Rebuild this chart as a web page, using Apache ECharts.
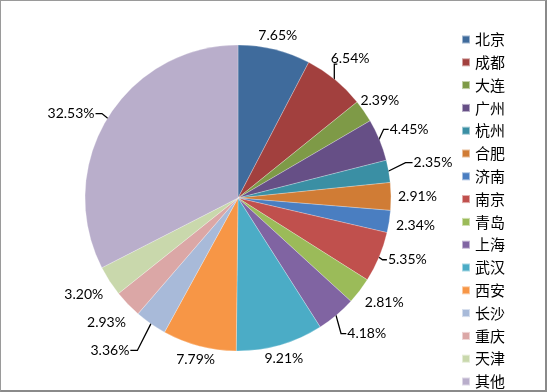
<!DOCTYPE html>
<html><head><meta charset="utf-8">
<script src="https://cdn.jsdelivr.net/npm/echarts@6/dist/echarts.min.js"></script>
<style>
html,body{margin:0;padding:0;background:#fff;}
#c{width:547px;height:392px;box-sizing:border-box;border:1px solid #9a9a9a;border-right:2px solid #8a8a8a;border-bottom:2px solid #8a8a8a;}
</style></head>
<body><div id="c"></div>
<script>
const categories = ['北京','成都','大连','广州','杭州','合肥','济南','南京','青岛','上海','武汉','西安','长沙','重庆','天津','其他'];
const values = [7.65, 6.54, 2.39, 4.45, 2.35, 2.91, 2.34, 5.35, 2.81, 4.18, 9.21, 7.79, 3.36, 2.93, 3.20, 32.53];
const colors = ['#3F6B9C','#A2403E','#7E9A47','#664F86','#3A8FA4','#D07C35','#4A7EC1','#C0504D','#9BBB59','#8064A2','#4BACC6','#F79646','#A8BAD9','#DBA7A6','#C9D8AC','#B9AECB'];

// label layout config: labels dragged away from the pie (offset from default spot) get a leader line
const labelDrag = {'成都':[5,-9],'广州':[6,-1],'杭州':[18,-4],'南京':[5,-7],'上海':[20,6],'长沙':[-32,14],'其他':[-19,6]};
const labelNudge = {'青岛':[10,0],'重庆':[-9,7],'天津':[-9,3]};

const CX = 237, CY = 197, R = 153, GAP = 7;
const chart = echarts.init(document.getElementById('c'), null, {renderer:'canvas'});
chart.setOption({
  animation:false,
  color: colors,
  legend:{
    orient:'vertical', left:455, top:26, height:370,
    itemWidth:8, itemHeight:8, itemGap:7.8,
    icon:'rect',
    textStyle:{fontFamily:'Noto Sans CJK SC', fontSize:15, color:'#000'},
    data: categories
  },
  series:[{
    type:'pie',
    center:[CX,CY], radius:R,
    startAngle:90, clockwise:true,
    avoidLabelOverlap:false,
    itemStyle:{borderColor:'rgba(255,255,255,0.5)', borderWidth:0.5},
    label:{show:true, position:'outside', formatter:(p)=>p.value.toFixed(2)+'%',
      fontFamily:'Lato', fontSize:14, color:'#000'},
    labelLine:{show:true, length:0, length2:0, minTurnAngle:0, maxSurfaceAngle:180, lineStyle:{color:'#000', width:1.3}},
    labelLayout:function(p){
      const pts = p.labelLinePoints;
      if(!pts) return {};
      const dx0 = pts[0][0]-CX, dy0 = pts[0][1]-CY;
      const d = Math.sqrt(dx0*dx0+dy0*dy0) || 1;
      const ux = dx0/d, uy = dy0/d;
      const ex = CX+ux*R, ey = CY+uy*R;
      const w = p.labelRect.width, h = p.labelRect.height;
      const name = categories[p.dataIndex];
      const s = Math.min((w/2)/Math.max(Math.abs(ux),1e-6),(h/2)/Math.max(Math.abs(uy),1e-6)) + GAP;
      let qx = ex+ux*s, qy = ey+uy*s;
      const nud = labelNudge[name];
      if(nud){ qx += nud[0]; qy += nud[1]; }
      const drag = labelDrag[name];
      let line = [[ex,ey],[ex+0.01,ey],[ex+0.02,ey]];
      if(drag){
        qx += drag[0]; qy += drag[1];
        const e2x = CX+ux*(R-1), e2y = CY+uy*(R-1);
        if(e2x > qx-w/2-3 && e2x < qx+w/2+3){
          // vertical leader, then a short stub under/over the label (non-collinear points)
          const ly = qy - Math.sign(uy)*(h/2 - 1);
          const sx = e2x < qx ? 1 : -1;
          line = [[e2x,e2y],[e2x,ly],[e2x+sx*3,ly]];
        } else {
          const sx = e2x < qx ? -1 : 1;
          const lx = qx + sx*(w/2+1);
          const stub = Math.min(7, Math.abs(lx-e2x)*0.5);
          const mx = lx + sx*stub;
          line = [[e2x,e2y],[mx,qy],[lx,qy]];
        }
      }
      return {x: qx, y: qy, align:'center', verticalAlign:'middle', labelLinePoints: line};
    },
    data: categories.map((n,i)=>({name:n, value:values[i]}))
  }]
});
</script></body></html>
